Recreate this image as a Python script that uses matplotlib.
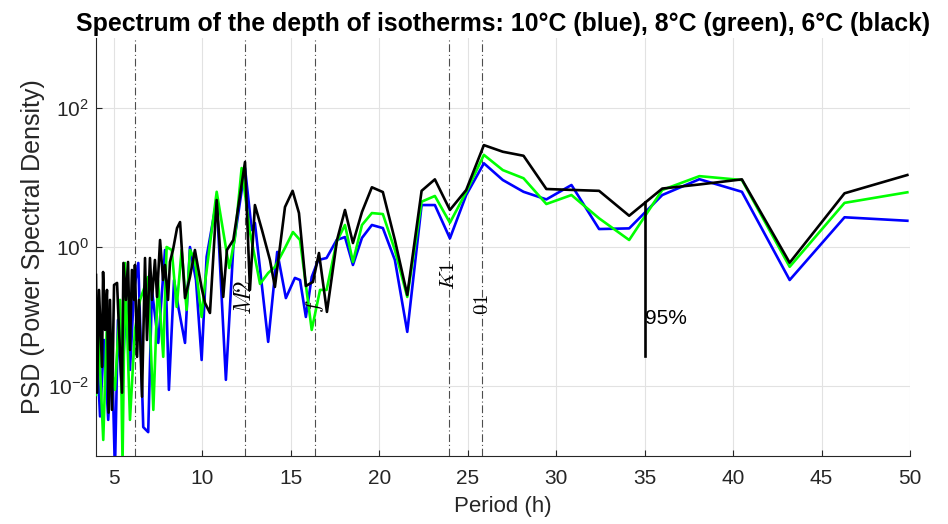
import numpy as np
import matplotlib.pyplot as plt
from matplotlib.ticker import FixedLocator, FuncFormatter, NullLocator

plt.rcParams['font.family'] = ['Liberation Sans', 'DejaVu Sans']

# PSD of the isotherm depth (period in hours)
period_blue = [4.0, 4.23, 4.45, 4.69, 4.90, 5.07, 5.24, 5.47, 5.69, 5.92, 6.15, 6.39,
               6.67, 6.95, 7.16, 7.52, 7.90, 8.12, 8.41, 8.65, 9.03, 9.31, 9.65, 9.97,
               10.25, 10.82, 11.34, 11.76, 12.42, 12.80, 12.98, 13.73, 14.24, 14.73,
               15.24, 15.53, 15.86, 16.19, 16.56, 17.03, 17.60, 18.07, 18.52, 19.03,
               19.59, 20.21, 20.89, 21.59, 22.40, 23.15, 24.0, 24.92, 25.92, 26.99,
               28.16, 29.45, 30.87, 32.43, 34.13, 36.0, 38.1, 40.5, 43.2, 46.3, 49.85]
psd_blue = [0.0645, 0.0037, 0.0463, 0.0033, 0.0333, 0.0006, 0.0897, 0.0075, 0.174,
            0.0172, 0.242, 0.59, 0.0026, 0.0022, 0.242, 0.042, 0.906, 0.0089, 0.336,
            0.138, 0.042, 1.0, 0.336, 0.0239, 0.72, 4.72, 0.0124, 1.0, 13.6, 1.75,
            2.21, 0.0435, 0.85, 0.185, 0.36, 0.336, 0.099, 0.371, 0.651, 0.695, 1.26,
            1.39, 0.552, 1.35, 2.07, 1.87, 0.651, 0.0605, 4.0, 4.0, 1.33, 5.57, 15.9,
            9.15, 6.2, 4.82, 7.76, 1.81, 1.85, 5.57, 9.4, 6.2, 0.336, 2.67, 2.38]

period_green = [4.0, 4.13, 4.41, 4.60, 4.79, 5.07, 5.36, 5.50, 5.64, 5.92, 6.20, 6.49,
                6.94, 7.24, 7.50, 7.80, 7.99, 8.28, 8.56, 8.84, 9.12, 9.31, 9.59, 9.97,
                10.16, 10.82, 11.53, 11.85, 12.23, 12.70, 13.27, 13.73, 14.11, 14.68,
                15.13, 15.53, 16.19, 16.66, 17.03, 17.60, 18.07, 18.52, 19.03, 19.59,
                20.21, 20.89, 21.59, 22.40, 23.15, 24.0, 24.92, 25.92, 26.99, 28.16,
                29.45, 30.87, 32.43, 34.13, 36.0, 38.1, 40.5, 43.2, 46.3, 49.85]
psd_green = [0.00753, 0.0645, 0.0017, 0.0605, 0.0239, 0.0089, 0.174, 0.0008, 0.59,
             0.0033, 0.0645, 0.174, 0.371, 0.00459, 0.336, 0.0265, 1.0, 0.906, 0.138,
             0.906, 0.125, 0.906, 0.651, 0.099, 0.305, 6.2, 0.5, 1.35, 13.6, 1.64,
             0.295, 0.424, 0.517, 0.97, 1.64, 1.26, 0.0645, 0.242, 0.242, 1.19, 2.07,
             0.61, 2.07, 3.07, 2.97, 0.906, 0.192, 4.47, 5.4, 2.23, 6.15, 21.0, 12.7,
             9.7, 4.14, 5.57, 2.58, 1.26, 6.58, 10.4, 9.15, 0.52, 4.3, 6.1]

period_black = [4.0, 4.06, 4.17, 4.34, 4.40, 4.51, 4.62, 4.71, 4.79, 4.90, 5.02, 5.19,
                5.30, 5.47, 5.55, 5.69, 5.81, 5.92, 6.03, 6.15, 6.20, 6.32, 6.43, 6.60,
                6.77, 6.88, 7.05, 7.16, 7.33, 7.45, 7.62, 7.79, 7.90, 8.07, 8.18, 8.35,
                8.58, 8.75, 9.03, 9.31, 9.59, 9.97, 10.16, 10.44, 10.82, 11.19, 11.40,
                11.76, 12.42, 12.70, 12.98, 13.38, 13.83, 14.11, 14.68, 15.11, 15.47,
                15.86, 16.26, 16.60, 17.05, 17.62, 18.07, 18.52, 19.03, 19.59, 20.21,
                20.89, 21.59, 22.40, 23.15, 24.0, 24.92, 25.92, 26.99, 28.16, 29.45,
                30.87, 32.43, 34.13, 36.0, 38.1, 40.5, 43.2, 46.3, 49.85]
psd_black = [0.397, 0.0081, 0.242, 0.019, 0.438, 0.0645, 0.242, 0.0042, 0.174, 0.0046,
             0.285, 0.305, 0.0645, 0.0081, 0.59, 0.174, 0.61, 0.0333, 0.468, 0.174,
             0.552, 0.0265, 0.174, 0.0071, 0.695, 0.0463, 0.695, 0.174, 0.651, 0.192,
             1.26, 0.336, 0.552, 0.174, 0.61, 0.906, 1.87, 2.28, 0.185, 0.371, 0.906,
             0.258, 0.157, 0.113, 4.72, 0.192, 0.906, 1.26, 16.6, 0.242, 4.0, 1.75,
             0.651, 0.267, 3.75, 6.4, 3.07, 0.276, 0.315, 0.82, 0.117, 1.26, 3.4, 1.14,
             3.18, 7.2, 6.15, 1.26, 0.205, 6.4, 9.35, 3.4, 6.58, 29.0, 23.3, 20.4, 6.8,
             6.6, 6.4, 2.81, 6.9, 7.9, 9.35, 0.595, 5.9, 10.8]

# tidal / inertial periods marked on the plot
tide_periods = [6.21, 12.42, 16.4, 23.93, 25.82]
tide_names = ['$M2$', '$f$', '$K1$', '$01$']
tide_name_periods = [12.42, 16.4, 23.93, 25.82]
tide_name_psd = [0.106, 0.113, 0.24, 0.106]
tide_name_size = [17, 15, 15, 15]

# 95% confidence bar
conf_period = 35
conf_range = [0.027, 4.4]

fig = plt.figure(figsize=(9.48, 5.24), dpi=100)
ax = fig.add_axes([96 / 948, 68 / 524, 814 / 948, 418 / 524])
ax.set_yscale('log')

for p in tide_periods:
    ax.axvline(p, color='#4d4d4d', lw=0.8, ls=(0, (7, 2.5, 1, 2.5)), zorder=1)

ax.plot(period_blue, psd_blue, color='#0000ff', lw=1.9, zorder=3)
ax.plot(period_green, psd_green, color='#00ff00', lw=1.9, zorder=4)
ax.plot(period_black, psd_black, color='k', lw=1.9, zorder=5)

for name, p, v, s in zip(tide_names, tide_name_periods, tide_name_psd, tide_name_size):
    ax.text(p, v, name, rotation=90, ha='center', va='bottom', fontsize=s,
            math_fontfamily='cm', zorder=6)

ax.plot([conf_period, conf_period], conf_range, color='k', lw=1.9, zorder=6)
ax.text(conf_period, 0.093, '95%', ha='left', va='center', fontsize=15, zorder=6)

ax.set_xlim(4, 50)
ax.set_ylim(1e-3, 1e3)
ax.xaxis.set_major_locator(FixedLocator(np.arange(5, 51, 5)))
ax.yaxis.set_major_locator(FixedLocator([1e-2, 1, 1e2]))
ax.yaxis.set_minor_locator(NullLocator())
ax.yaxis.set_major_formatter(FuncFormatter(
    lambda v, pos: '$\\mathregular{10^{%d}}$' % round(np.log10(v))))

ax.grid(True, color='#e2e2e2', lw=0.8)
ax.set_axisbelow(True)
for side in ['top', 'right']:
    ax.spines[side].set_visible(False)
for side in ['left', 'bottom']:
    ax.spines[side].set_color('#262626')
    ax.spines[side].set_linewidth(0.8)
ax.tick_params(axis='x', direction='in', length=4, color='#262626',
               labelcolor='#262626', labelsize=15, pad=9)
ax.tick_params(axis='y', direction='in', length=4, color='#262626',
               labelcolor='#262626', labelsize=15, pad=5)

ax.set_xlabel('Period (h)', fontsize=16, color='#262626', labelpad=6)
ax.set_ylabel('PSD (Power Spectral Density)', fontsize=18, color='#262626', labelpad=2)
ax.set_title('Spectrum of the depth of isotherms: 10°C (blue), 8°C (green), 6°C (black)',
             fontsize=17.9, fontweight='bold', pad=5)

fig.savefig('out.png', dpi=100)
